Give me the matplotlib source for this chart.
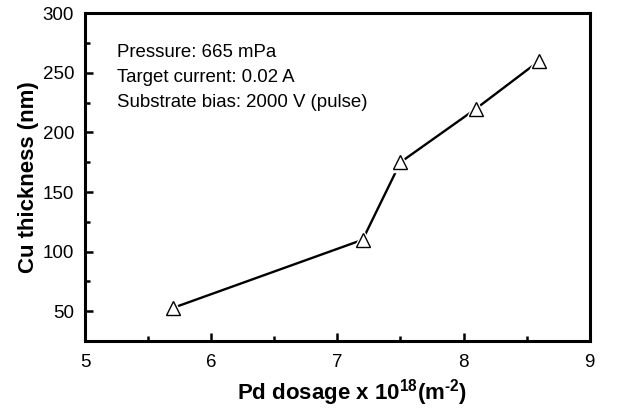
import matplotlib
matplotlib.use("Agg")
import matplotlib.pyplot as plt
from matplotlib.ticker import MultipleLocator

pd_dosage = [5.7, 7.2, 7.5, 8.1, 8.6]
cu_thickness = [53, 110, 175, 220, 260]
notes = ["Pressure: 665 mPa", "Target current: 0.02 A", "Substrate bias: 2000 V (pulse)"]

plt.rcParams.update({
    "font.family": ["Liberation Sans", "DejaVu Sans"],
    "font.size": 13.5,
    "mathtext.fontset": "custom",
    "mathtext.rm": "Liberation Sans",
    "mathtext.bf": "Liberation Sans:bold",
})

fig = plt.figure(figsize=(6.26, 4.11), dpi=100)
ax = fig.add_axes([0.136, 0.170, 0.806, 0.798])

ax.plot(pd_dosage, cu_thickness, color="black", lw=1.7, zorder=2)
ax.plot(pd_dosage, cu_thickness, ls="none", marker="^", ms=14, mfc="white", mec="white", zorder=3)
ax.plot(pd_dosage, cu_thickness, ls="none", marker="^", ms=10, mfc="white", mec="black", mew=1.0, zorder=4)

ax.set_xlim(5, 9)
ax.set_ylim(25, 300)
ax.xaxis.set_major_locator(MultipleLocator(1))
ax.xaxis.set_minor_locator(MultipleLocator(0.5))
ax.yaxis.set_minor_locator(MultipleLocator(25))
ax.set_yticks([50, 100, 150, 200, 250, 300])

for s in ax.spines.values():
    s.set_linewidth(2.2)
ax.tick_params(which="both", direction="in", top=False, right=False, width=1.8)
ax.tick_params(which="major", length=6, labelsize=13.5)
ax.tick_params(axis="x", which="major", pad=9)
ax.tick_params(axis="y", which="major", pad=8)
ax.tick_params(which="minor", length=3.5)

ax.set_xlabel("Pd dosage x 10$^{\\mathbf{18}}$(m$^{\\mathbf{\u20102}}$)", fontsize=16, fontweight="bold")
ax.set_ylabel("Cu thickness (nm)", fontsize=16, fontweight="bold")
ax.xaxis.set_label_coords(0.529, -0.11)
ax.yaxis.set_label_coords(-0.091, 0.5)

for i, t in enumerate(notes):
    ax.text(0.063, 0.881 - i * 0.076, t, transform=ax.transAxes, fontsize=13.4, ha="left", va="center")

fig.savefig("out.png", dpi=100)
